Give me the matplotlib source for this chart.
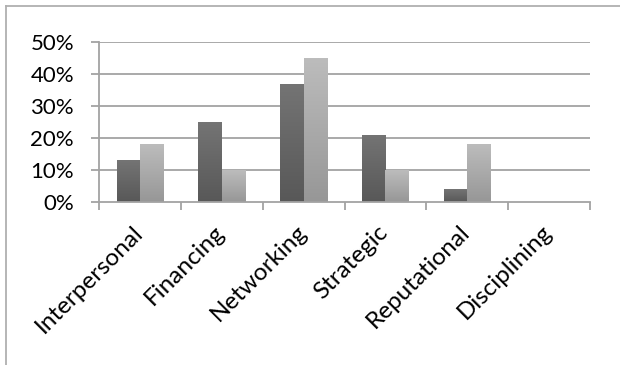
import numpy as np
import matplotlib
matplotlib.use("Agg")
import matplotlib.pyplot as plt
from matplotlib.patches import Rectangle
from matplotlib.lines import Line2D
import matplotlib.transforms as mtransforms

categories = ["Interpersonal", "Financing", "Networking", "Strategic", "Reputational", "Disciplining"]
series_a = [13, 25, 37, 21, 4, 0]
series_b = [18, 10, 45, 10, 18, 0]
yticks = [0, 10, 20, 30, 40, 50]
ytick_labels = ["0%", "10%", "20%", "30%", "40%", "50%"]

plt.rcParams['font.family'] = ['Lato', 'DejaVu Sans']

W, H = 620, 365
fig = plt.figure(figsize=(W / 100, H / 100), dpi=100)
left, right, top, bottom = 99, 590, 42, 202
ax = fig.add_axes([left / W, 1 - bottom / H, (right - left) / W, (bottom - top) / H])

grid_c = "#a3a3a3"
n = len(categories)
x = np.arange(n)
bw = 0.285

ax.set_xlim(-0.5, n - 0.5)
ax.set_ylim(0, 50)

for yv in yticks[1:]:
    ax.axhline(yv, color=grid_c, lw=1.3, zorder=1)

def grad_bar(xc, h, ctop, cbot):
    if h <= 0:
        return
    rect = Rectangle((xc - bw / 2, 0), bw, h, facecolor='none', edgecolor='none', zorder=3)
    ax.add_patch(rect)
    top_rgb = np.array(matplotlib.colors.to_rgb(ctop))
    bot_rgb = np.array(matplotlib.colors.to_rgb(cbot))
    t = np.linspace(0, 1, 64)[:, None]
    img = (bot_rgb[None, :] * (1 - t) + top_rgb[None, :] * t)[:, None, :]
    im = ax.imshow(img, extent=(xc - bw / 2, xc + bw / 2, 0, h), origin='lower',
                   aspect='auto', zorder=3, interpolation='bilinear')
    im.set_clip_path(rect)

for i in range(n):
    grad_bar(x[i] - bw / 2, series_a[i], "#747474", "#585858")
    grad_bar(x[i] + bw / 2, series_b[i], "#bcbcbc", "#979797")

ax.set_xlim(-0.5, n - 0.5)
ax.set_ylim(0, 50)

for s in ["top", "right"]:
    ax.spines[s].set_visible(False)
for s in ["left", "bottom"]:
    ax.spines[s].set_color(grid_c)
    ax.spines[s].set_linewidth(1.3)
ax.spines["bottom"].set_zorder(4)

ax.set_yticks(yticks)
ax.set_yticklabels(ytick_labels, fontsize=16)
ax.tick_params(axis='y', length=6, width=1.3, color=grid_c, pad=12)

ax.set_xticks(np.arange(n + 1) - 0.5, minor=False)
ax.set_xticklabels([])
ax.tick_params(axis='x', length=6, width=1.3, color=grid_c)
ax.set_xticks(x, minor=True)
ax.set_xticklabels(categories, minor=True, rotation=45, ha='right', va='top',
                   rotation_mode='anchor', fontsize=17.5)
ax.tick_params(axis='x', which='minor', length=0, pad=14)
offset = mtransforms.ScaledTranslation(-8 / 100, 0, fig.dpi_scale_trans)
for lbl in ax.get_xticklabels(minor=True):
    lbl.set_transform(lbl.get_transform() + offset)

# outer frame (top and left edges)
fig.add_artist(Line2D([6 / W, 6 / W], [0, 1 - 6 / H], color="#b0b0b0", lw=1.3))
fig.add_artist(Line2D([6 / W, 1], [1 - 6 / H, 1 - 6 / H], color="#b0b0b0", lw=1.3))

fig.savefig("out.png", dpi=100)
